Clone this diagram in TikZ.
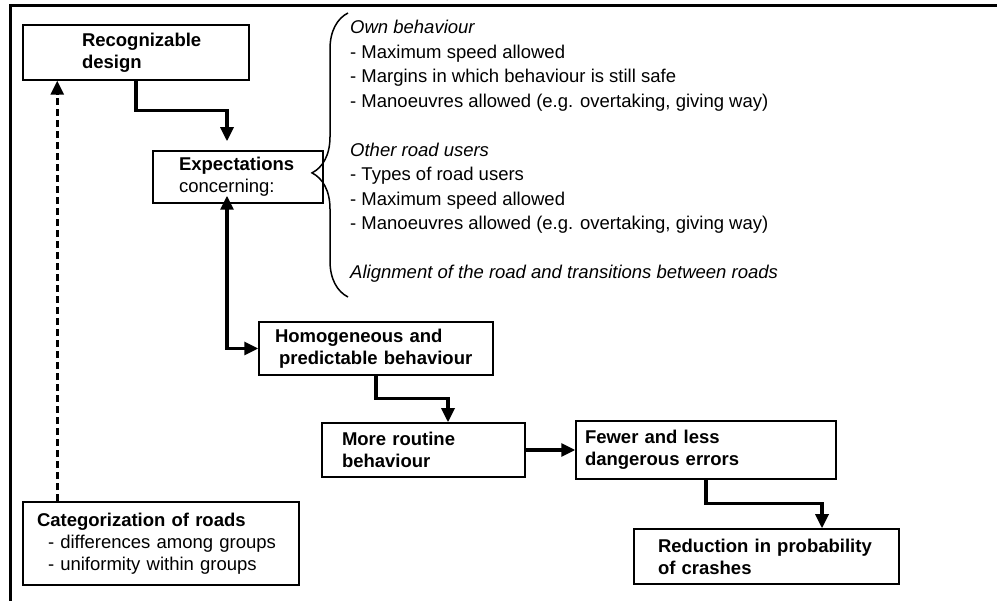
\documentclass[tikz,border=0pt]{standalone}
\usepackage{fontspec}
\setmainfont{Liberation Sans}
\usetikzlibrary{arrows.meta,decorations.pathreplacing}

\begin{document}
\begin{tikzpicture}
    [x=1pt,y=-1pt,
     box/.style={draw,line width=1.5pt,align=left,inner ysep=0pt,
       font=\fontsize{18.5}{22}\selectfont\bfseries},
     link/.style={->,line width=3.2pt,>={Triangle[length=14pt,width=13pt]}},
     hint/.style={link,line width=2.8pt,dash pattern=on 7pt off 4pt},
     notes/.style={align=left,inner sep=0pt,anchor=north west,
       font=\fontsize{18.5}{24.5}\selectfont},
     brace/.style={line width=1.5pt,decorate,
       decoration={brace,amplitude=36pt,aspect=0.437}}]
    \useasboundingbox (0,0) rectangle (997,601);
    \draw[line width=3pt] (10,601) -- (10,6) -- (997,6);

    \node at (136,52.5) (design) [box,minimum height=55pt,text width=108pt,inner xsep=59pt]
      {Recognizable\\design};
    \node at (238,177) (expect) [box,minimum height=52pt,text width=118pt,inner xsep=26pt]
      {Expectations\\\textmd{concerning:}};
    \node at (376,348.5) (homog) [box,minimum height=53pt,text width=202pt,inner xsep=16pt]
      {Homogeneous and\\\hspace*{4pt}predictable behaviour};
    \node at (423.5,450) (routine) [box,minimum height=54pt,text width=163pt,inner xsep=20pt]
      {More routine\\behaviour};
    \node at (706,450) (fewer) [box,minimum height=58pt,text width=242pt,inner xsep=9pt]
      {Fewer and less\\dangerous errors};
    \node at (766.5,556.5) (reduce) [box,minimum height=55pt,text width=217pt,inner xsep=24pt]
      {Reduction in probability\\of crashes};
    \node at (161,543.5) (road cat) [box,minimum height=83pt,text width=248pt,inner xsep=14pt]
      {Categorization of roads\\
       \hspace*{11pt}\textmd{- differences among groups}\\
       \hspace*{11pt}\textmd{- uniformity within groups}};

    \node at (350,20) (exp list) [notes]
      {\textit{Own behaviour}\\
       - Maximum speed allowed\\
       - Margins in which behaviour is still safe\\
       - Manoeuvres allowed (e.g. overtaking, giving way)\\[24.5pt]
       \textit{Other road users}\\
       - Types of road users\\
       - Maximum speed allowed\\
       - Manoeuvres allowed (e.g. overtaking, giving way)\\[24.5pt]
       \textit{Alignment of the road and transitions between roads}};
    \coordinate (brace top) at (348,13);
    \coordinate (brace end) at (348,297);
    \draw[brace] (brace end) -- (brace top);

    \draw[link,shorten >=9pt] (design.south) -- ++(0,30) -| ([xshift=-11pt]expect.north);
    \draw[link,<->,shorten <=-8pt] ([xshift=-11pt]expect.south) |- (homog.west);
    \draw[link] (homog.south) -- ++(0,23) -| ([xshift=24.5pt]routine.north);
    \draw[link] (routine.east) -- (fewer.west);
    \draw[link] (fewer.south) -- ++(0,24) -| ([xshift=55.5pt]reduce.north);
    \draw[hint] ([xshift=35pt]road cat.north west) -- ([xshift=35pt]design.south west);
\end{tikzpicture}
\end{document}
